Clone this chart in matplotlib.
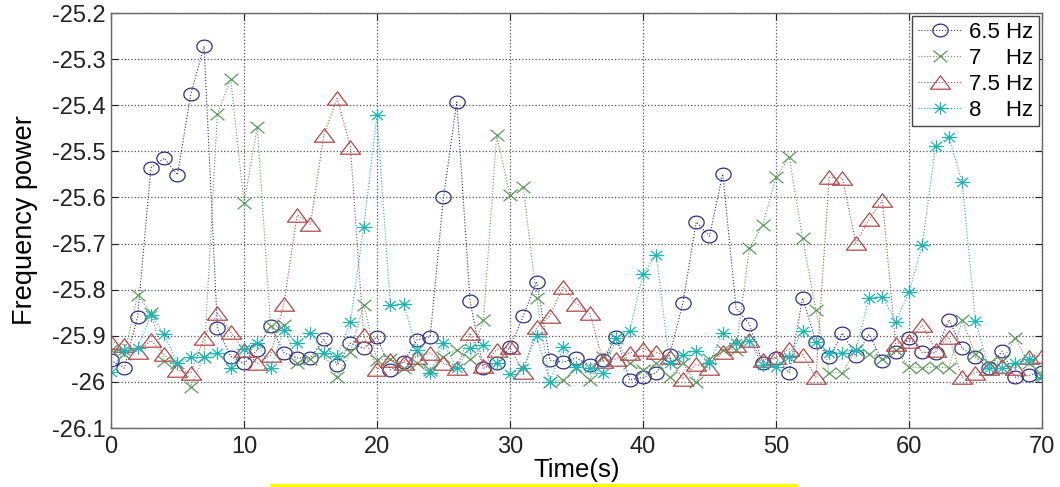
import numpy as np
import matplotlib
matplotlib.use("Agg")
import matplotlib.pyplot as plt
from matplotlib.patches import Rectangle
from matplotlib.path import Path

plt.rcParams['font.family'] = ['Liberation Sans', 'DejaVu Sans']
plt.rcParams['axes.unicode_minus'] = False

time_s = list(range(0, 71))

hz65 = [-25.953, -25.970, -25.859, -25.536, -25.515, -25.551, -25.376, -25.272, -25.883, -25.945,
        -25.960, -25.931, -25.878, -25.937, -25.948, -25.948, -25.907, -25.964, -25.916, -25.927,
        -25.902, -25.974, -25.957, -25.909, -25.902, -25.600, -25.393, -25.825, -25.970, -25.960,
        -25.925, -25.857, -25.783, -25.953, -25.957, -25.948, -25.964, -25.953, -25.903, -25.996,
        -25.990, -25.980, -25.942, -25.829, -25.653, -25.684, -25.549, -25.840, -25.875, -25.958,
        -25.948, -25.980, -25.818, -25.913, -25.947, -25.894, -25.944, -25.897, -25.954, -25.936,
        -25.904, -25.936, -25.937, -25.865, -25.927, -25.946, -25.970, -25.933, -25.990, -25.986,
        -25.978]

hz7 = [-25.930, -25.940, -25.812, -25.850, -25.955, -25.960, -26.010, -25.945, -25.420, -25.343,
       -25.612, -25.447, -25.879, -25.877, -25.960, -25.950, -25.937, -25.990, -25.935, -25.833,
       -25.953, -25.950, -25.970, -25.960, -25.975, -25.945, -25.930, -25.950, -25.866, -25.465,
       -25.595, -25.577, -25.818, -26.000, -25.995, -25.970, -25.995, -25.945, -25.905, -25.960,
       -25.975, -25.960, -25.990, -25.960, -26.000, -25.950, -25.930, -25.930, -25.710, -25.660,
       -25.556, -25.512, -25.688, -25.845, -25.980, -25.980, -25.930, -25.940, -25.950, -25.930,
       -25.967, -25.970, -25.967, -25.970, -25.866, -25.940, -25.960, -25.955, -25.905, -25.960,
       -25.985]

hz75 = [-25.913, -25.920, -25.935, -25.910, -25.940, -25.975, -25.980, -25.905, -25.851, -25.892,
        -25.931, -25.960, -25.942, -25.830, -25.638, -25.658, -25.465, -25.385, -25.490, -25.899,
        -25.972, -25.953, -25.958, -25.945, -25.937, -25.960, -25.970, -25.894, -25.965, -25.930,
        -25.925, -25.978, -25.882, -25.857, -25.794, -25.830, -25.851, -25.955, -25.950, -25.937,
        -25.928, -25.936, -25.945, -25.994, -25.962, -25.970, -25.935, -25.920, -25.910, -25.953,
        -25.947, -25.928, -25.941, -25.990, -25.556, -25.558, -25.699, -25.647, -25.606, -25.917,
        -25.912, -25.877, -25.930, -25.903, -25.990, -25.980, -25.970, -25.965, -25.970, -25.945,
        -25.943]

hz8 = [-25.978, -25.930, -25.926, -25.855, -25.896, -25.960, -25.947, -25.947, -25.937, -25.970,
       -25.928, -25.916, -25.970, -25.888, -25.916, -25.893, -25.937, -25.944, -25.871, -25.664,
       -25.421, -25.833, -25.830, -25.930, -25.980, -25.916, -25.970, -25.926, -25.920, -25.960,
       -25.983, -25.970, -25.900, -26.000, -25.925, -25.968, -25.970, -25.980, -25.905, -25.890,
       -25.765, -25.725, -25.958, -25.942, -25.932, -25.958, -25.894, -25.915, -25.912, -25.963,
       -25.967, -25.946, -25.889, -25.913, -25.937, -25.937, -25.931, -25.818, -25.815, -25.869,
       -25.806, -25.703, -25.489, -25.469, -25.567, -25.868, -25.970, -25.970, -25.960, -25.950,
       -25.990]

labels = ['6.5 Hz', '7    Hz', '7.5 Hz', '8    Hz']
xticks = [0, 10, 20, 30, 40, 50, 60, 70]
yticks = [-26.1, -26.0, -25.9, -25.8, -25.7, -25.6, -25.5, -25.4, -25.3, -25.2]
yticklabels = ['-26.1', '-26', '-25.9', '-25.8', '-25.7', '-25.6', '-25.5', '-25.4', '-25.3', '-25.2']

# Markers slightly wider than tall, like the reference
SX = 1.2
th = np.linspace(0, 2 * np.pi, 61)
ellipse = Path(np.column_stack([SX * np.cos(th), np.sin(th)]), closed=True)
xmark = Path([(-SX, -1), (SX, 1), (-SX, 1), (SX, -1)],
             [Path.MOVETO, Path.LINETO, Path.MOVETO, Path.LINETO])
tri = Path([(0, 0.9), (-1.35, -0.9), (1.35, -0.9), (0, 0.9)], closed=True)
d = 0.72
aster = Path([(-SX, 0), (SX, 0), (0, -1), (0, 1), (-SX * d, -d), (SX * d, d), (-SX * d, d), (SX * d, -d)],
             [Path.MOVETO, Path.LINETO] * 4)

fig = plt.figure(figsize=(10.6, 4.87), dpi=100)
ax = fig.add_axes([0.1047, 0.1211, 0.8783, 0.8522])

styles = [
    dict(marker=ellipse, color='#2e2e8a', ms=11, mew=0.9),
    dict(marker=xmark, color='#5f9a5f', ms=10, mew=0.9),
    dict(marker=tri, color='#b24a4a', ms=14.5, mew=0.9),
    dict(marker=aster, color='#1fb5b5', ms=11, mew=0.9),
]
for ys, lab, st in zip([hz65, hz7, hz75, hz8], labels, styles):
    ax.plot(time_s, ys, linestyle=':', linewidth=0.8, label=lab, mfc='none', **st)

ax.set_xlim(0, 70)
ax.set_ylim(-26.1, -25.2)
ax.set_xticks(xticks)
ax.set_yticks(yticks)
ax.set_yticklabels(yticklabels)
ax.tick_params(direction='in', labelsize=17, top=True, right=True, length=5, colors='#222222')
ax.tick_params(axis='x', pad=6)
ax.tick_params(axis='y', pad=4)
ax.grid(True, linestyle=':', color='#555555', linewidth=0.9)
for sp in ax.spines.values():
    sp.set_color('#666666')
    sp.set_linewidth(1.0)

ax.set_xlabel('Time(s)', fontsize=18.5)
ax.xaxis.set_label_coords(0.5, -0.072)
ax.set_ylabel('Frequency power', fontsize=19.5)
ax.yaxis.set_label_coords(-0.078, 0.5)

leg = ax.legend(loc='upper right', fontsize=16, handlelength=2.0, handletextpad=0.3,
                borderpad=0.25, labelspacing=0.22, fancybox=False, framealpha=1,
                borderaxespad=0.15)
leg.get_frame().set_edgecolor('#444444')
leg.get_frame().set_linewidth(1.0)

fig.patches.append(Rectangle((270 / 1060, 0), 528 / 1060, 3 / 487, transform=fig.transFigure,
                             facecolor='#ffff00', edgecolor='none'))

fig.savefig('out.png', dpi=100)
